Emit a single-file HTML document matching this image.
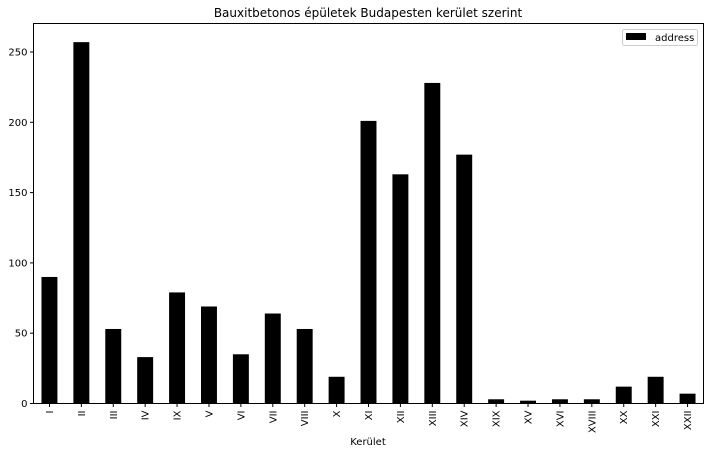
<!DOCTYPE html>
<html><head><meta charset="utf-8"><style>
html,body{margin:0;padding:0;background:#fff;}
svg{display:block;font-family:"DejaVu Sans","Liberation Sans",sans-serif;}
</style></head><body>
<svg id="chart" width="710" height="454" viewBox="0 0 710 454" xmlns="http://www.w3.org/2000/svg">
<rect width="710" height="454" fill="#fff"/>
<text x="368" y="17" text-anchor="middle" font-size="12" fill="#000">Bauxitbetonos épületek Budapesten kerület szerint</text>
<g id="marks"></g>
<g id="yaxis"></g>
<g id="xaxis"></g>
<rect x="33.5" y="23.5" width="670" height="380" fill="none" stroke="#000" stroke-width="1"/>
<text x="368" y="445" text-anchor="middle" font-size="10" fill="#000">Kerület</text>
<g>
<rect x="622.5" y="29.5" width="75" height="16" rx="2" fill="#fff" stroke="#ccc"/>
<rect x="626" y="33" width="20" height="7" fill="#000"/>
<text x="655" y="41" font-size="10" fill="#000">address</text>
</g>
</svg>
<script>
const categories=["I","II","III","IV","IX","V","VI","VII","VIII","X","XI","XII","XIII","XIV","XIX","XV","XVI","XVIII","XX","XXI","XXII"];
const values=[90,257,53,33,79,69,35,64,53,19,201,163,228,177,3,2,3,3,12,19,7];
const yTicks=[0,50,100,150,200,250];
const NS="http://www.w3.org/2000/svg";
const L=33.5,R=703.5,B=403.5,PX=1.406;
const band=(R-L)/categories.length;
function xc(i){return L+band*(i+0.5);}
function y(v){return B-v*PX;}
const marks=document.getElementById('marks'),ya=document.getElementById('yaxis'),xa=document.getElementById('xaxis');
function mk(t,a){const e=document.createElementNS(NS,t);for(const k in a)e.setAttribute(k,a[k]);return e;}
values.forEach((v,i)=>{
 const r=mk('rect',{x:xc(i)-band/4,y:y(v),width:band/2,height:v*PX,fill:'#000'});
 
 
 marks.appendChild(r);
});
yTicks.forEach(t=>{
 const l=mk('line',{x1:L-3.5,x2:L,y1:y(t),y2:y(t),stroke:'#000'});
 
 
 ya.appendChild(l);
 const tx=mk('text',{x:L-6,y:y(t)+3.5,'text-anchor':'end','font-size':'10',fill:'#000'});
 tx.textContent=t;
 
 
 ya.appendChild(tx);
});
categories.forEach((c,i)=>{
 const l=mk('line',{x1:xc(i),x2:xc(i),y1:B,y2:B+3.5,stroke:'#000'});
 
 
 xa.appendChild(l);
 const tx=mk('text',{x:0,y:0,'text-anchor':'end','font-size':'10',fill:'#000',transform:`translate(${xc(i)+3.5},${B+7}) rotate(-90)`});
 tx.textContent=c;
 
 
 xa.appendChild(tx);
});
</script>
</body></html>
